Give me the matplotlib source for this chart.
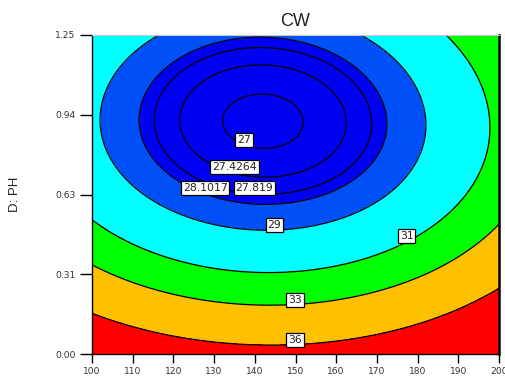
import numpy as np
import matplotlib
matplotlib.use("Agg")
import matplotlib.pyplot as plt

# ---- data (response-surface model) ----
x_range = [100, 200]          # A (x axis)
y_range = [0.0, 1.25]         # D: PH
z_min = 26.87                 # value at the optimum
x_opt = 142.0
y_opt = 0.912
curv_x = 0.00133              # quadratic coefficient in x
curv_y = 11.5                 # quadratic coefficient in y
cubic_y = -0.43               # cubic coefficient in y
inter_xy = 0.006              # x*y interaction coefficient
curv_x_y = 0.056              # relative change of x curvature with y

levels = [27, 27.4264, 27.819, 28.1017, 29, 31, 33, 36]
level_labels = ["27", "27.4264", "27.819", "28.1017", "29", "31", "33", "36"]
band_colors = ["#0000F2", "#0000F2", "#0000F2", "#0000F2", "#0050FA",
               "#00FFFF", "#00FF00", "#FFC000", "#FF0000"]
x_ticks = [100, 110, 120, 130, 140, 150, 160, 170, 180, 190, 200]
y_ticks = [0.0, 0.3125, 0.625, 0.9375, 1.25]
y_ticklabels = ["0.00", "0.31", "0.63", "0.94", "1.25"]
label_pos = [(137.3, 0.837), (135.0, 0.731), (139.9, 0.649), (127.8, 0.649),
             (144.8, 0.505), (177.3, 0.462), (149.9, 0.212), (149.9, 0.055)]

plt.rcParams['font.family'] = ['Liberation Sans', 'DejaVu Sans']

xs = np.linspace(x_range[0], x_range[1], 300)
ys = np.linspace(y_range[0], y_range[1], 300)
X, Y = np.meshgrid(xs, ys)
dX = X - x_opt
dY = Y - y_opt
Z = (z_min + curv_x * (1 + curv_x_y * dY) * dX ** 2 + curv_y * dY ** 2
     + cubic_y * dY ** 3 + inter_xy * dX * dY)

fig = plt.figure(figsize=(5.06, 3.79), dpi=100)
ax = fig.add_axes([92 / 506, 1 - 354 / 379, (499 - 92) / 506, (354 - 35) / 379])

bounds = [Z.min() - 1] + levels + [Z.max() + 1]
ax.contourf(X, Y, Z, levels=bounds, colors=band_colors)
cs = ax.contour(X, Y, Z, levels=levels, colors="black", linewidths=0.9)

for (lx, ly), lab in zip(label_pos, level_labels):
    ax.text(lx, ly, lab, ha="center", va="center", fontsize=7.8,
            family="DejaVu Sans", color="#222222", zorder=5,
            bbox=dict(boxstyle="square,pad=0.18", fc="white", ec="black", lw=0.9))

ax.set_xlim(x_range)
ax.set_ylim(y_range)
ax.set_xticks(x_ticks)
ax.set_xticklabels([str(v) for v in x_ticks])
ax.set_yticks(y_ticks)
ax.set_yticklabels(y_ticklabels)
for lbl in ax.get_xticklabels() + ax.get_yticklabels():
    lbl.set_family("DejaVu Sans")
ax.tick_params(direction="out", width=1, labelsize=6.6, color="black",
               labelcolor="#333333")
ax.tick_params(axis="y", length=8.6, pad=3.2)
ax.tick_params(axis="x", length=6.2, pad=3.0)
for s in ["left", "bottom"]:
    ax.spines[s].set_linewidth(1.0)
ax.spines["right"].set_linewidth(1.8)
ax.spines["top"].set_color("#c8c8c8")
ax.spines["top"].set_linewidth(0.8)

ax.set_title("CW", fontsize=13, pad=6.5, color="#222222")
ax.set_ylabel("D: PH", fontsize=9.5, color="#222222")
ax.yaxis.set_label_coords(-0.175, 0.5)

fig.savefig("out.png", dpi=100)
